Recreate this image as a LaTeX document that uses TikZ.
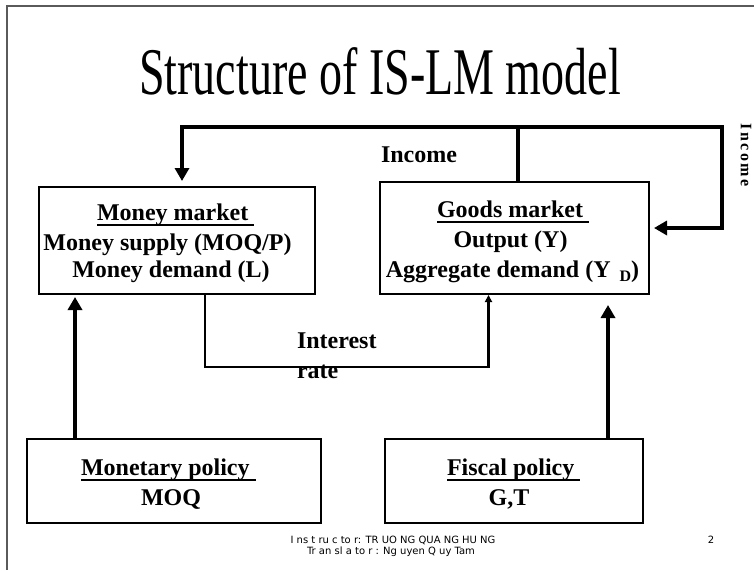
\documentclass[tikz,border=0pt]{standalone}
\usepackage{fontspec}
\setmainfont{Liberation Serif}
\newfontfamily\footfont{DejaVu Sans}
\usetikzlibrary{arrows.meta}
\newcommand{\myul}[1]{\leavevmode\setbox0\hbox{#1}\rlap{\vrule height -3.5pt depth 6.2pt width \wd0}\box0}
\definecolor{framecol}{RGB}{90,90,90}
\tikzset{
  box/.style={draw, line width=1.1pt, inner sep=0pt, outer sep=0pt},
  lbl/.style={inner sep=0pt, outer sep=0pt, font=\fontsize{24}{24}\selectfont\bfseries},
  thickarrow/.style={line width=4pt, -{Triangle[length=13pt,width=14pt]}},
  thinarrow/.style={line width=2.6pt, -{Triangle[length=7pt,width=7pt]}},
  foot/.style={inner sep=0pt, outer sep=0pt, font=\footfont\fontsize{10}{10}\selectfont}
}
\begin{document}
\begin{tikzpicture}[x=1pt,y=-1pt]
\useasboundingbox (0,0) rectangle (754,570);
\fill[white] (0,0) rectangle (754,570);
\draw[framecol, line width=1.5pt] (7,570) -- (7,6) -- (754,6);

\node[inner sep=0pt, anchor=base, font=\fontsize{46}{46}\selectfont] (title) at (380,94) {\scalebox{1}[1.45]{Structure of IS-LM model}};

% boxes
\node[box, minimum width=276pt, minimum height=107pt] (money) at (177,240.5) {};
\node[box, minimum width=269pt, minimum height=112pt] (goods) at (514.5,238) {};
\node[box, minimum width=294pt, minimum height=84pt] (monetary) at (174,481) {};
\node[box, minimum width=258pt, minimum height=84pt] (fiscal) at (514,481) {};

% money market text
\node[lbl, anchor=base west] (mm1) at (97,220) {\myul{Money market\ }};
\node[lbl, anchor=base] (mm2) at (167.5,250) {Money supply (MOQ/P)};
\node[lbl, anchor=base] (mm3) at (171,277) {Money demand (L)};

% goods market text
\node[lbl, anchor=base west] (gm1) at (437,217) {\myul{Goods market\ }};
\node[lbl, anchor=base] (gm2) at (510.5,247) {Output (Y)};
\node[lbl, anchor=base] (gm3) at (512.5,277) {Aggregate demand (Y\hspace{9pt}\raisebox{-4pt}{\fontsize{16}{16}\selectfont D})};

% policy texts
\node[lbl, anchor=base west] (mp1) at (81,475) {\myul{Monetary policy\ }};
\node[lbl, anchor=base] (mp2) at (171,505) {MOQ};
\node[lbl, anchor=base west] (fp1) at (447,475) {\myul{Fiscal policy\ }};
\node[lbl, anchor=base] (fp2) at (509,505) {G,T};

% labels
\node[lbl, anchor=base west] (inc) at (381,162) {Income};
\node[lbl, anchor=base west] (ir1) at (297,348) {Interest};
\node[lbl, anchor=base west] (ir2) at (297,378) {rate};
\node[inner sep=0pt, rotate=-90, font=\fontsize{16}{16}\selectfont\bfseries\addfontfeature{LetterSpace=15}] (incr) at (746,155) {Income};

% connectors
\draw[thickarrow, shorten >=6pt] ([xshift=3.5pt]goods.north) -- ++(0,-55) -| ([xshift=5pt]money.north);
\draw[thickarrow, shorten >=5pt] ([xshift=3.5pt]goods.north) -- ++(0,-55) -- ++(204,0) |- ([yshift=10pt]goods.east);
\draw[thinarrow, shorten >=1pt] ([xshift=28pt]money.south) -- ++(0,73) -| ([xshift=-26pt]goods.south);
\draw[thickarrow, shorten >=3pt] ([xshift=-99pt]monetary.north) -- ([xshift=-102pt]money.south);
\draw[thickarrow, shorten >=11pt] ([xshift=94pt]fiscal.north) -- ([xshift=93.5pt]goods.south);

% footer
\node[foot, anchor=base] (f1) at (393,543) {I ns t ru c to r: TR UO NG QUA NG HU NG};
\node[foot, anchor=base] (f2) at (391,554) {Tr an sl a to r : Ng uyen Q uy Tam};
\node[foot, anchor=base] (pg) at (711,543) {2};
\end{tikzpicture}
\end{document}
